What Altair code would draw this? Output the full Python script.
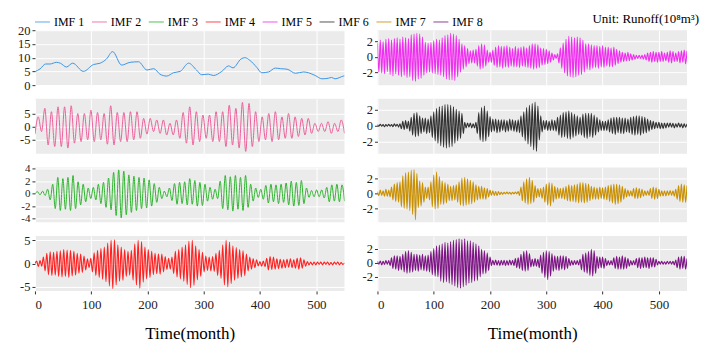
import altair as alt
import numpy as np
import pandas as pd

names = ["IMF 1", "IMF 2", "IMF 3", "IMF 4", "IMF 5", "IMF 6", "IMF 7", "IMF 8"]
colors = ["#3C96E6", "#EC5F9C", "#2DB52D", "#FF2222", "#F030F0", "#333333", "#C99004", "#7D1585"]
unit_text = ["Unit: Runoff(10⁸m³)"]

x_ticks = [0, 100, 200, 300, 400, 500]

imf1_month = [0, 9, 19, 27, 38, 45, 56, 67, 86, 104, 116, 127, 138, 154, 169, 184, 199, 211,
              222, 234, 246, 258, 273, 287, 296, 308, 317, 332, 344, 352, 366, 373, 382, 394,
              403, 415, 427, 436, 448, 463, 477, 486, 498, 510, 521, 527, 533, 548, 550]
imf1_value = [4.9, 5.9, 7.7, 7.7, 8.3, 8.0, 6.6, 8.0, 5.0, 7.5, 8.0, 9.5, 12.2, 7.3, 8.3, 8.5,
              5.5, 6.0, 4.0, 3.3, 4.5, 5.0, 8.0, 5.5, 3.8, 4.0, 3.5, 5.0, 7.0, 6.3, 9.5, 10.0,
              9.0, 6.5, 4.5, 4.8, 6.2, 6.0, 5.8, 4.3, 4.8, 4.5, 3.5, 2.3, 2.5, 2.8, 2.3, 3.3, 3.4]

imf2 = [-2.9, 3.8, -1.9, 7.1, -7.1, 5.8, -7.7, 7.7, -7.7, 7.7, -8.3, 8.1, -6.4, 5.1, -5.8, 5.1,
        -5.1, 6.4, -5.8, 5.5, -5.1, 5.1, -6.8, 8.1, -7.1, 5.5, -5.8, 5.5, -5.8, 5.8, -5.1, 5.8,
        -4.5, 3.2, -2.9, 3.2, -1.9, 2.6, -2.6, 2.6, -3.2, 1.3, -3.2, 2.6, -4.5, 5.5, -6.4, 7.7,
        -7.1, 5.8, -5.8, 4.5, -4.5, 4.5, -5.8, 5.8, -5.8, 5.8, -7.7, 8.3, -7.1, 7.1, -8.3, 9.4,
        -9.6, 9.0, -7.7, 5.8, -5.8, 3.8, -5.1, 5.1, -5.8, 5.8, -5.1, 3.8, -4.5, 5.1, -4.5, 3.8,
        -3.8, 3.2, -3.2, 3.2, -2.6, 1.3, -1.9, 1.3, -1.9, 1.9, -2.6, 1.3, -1.9, 2.6, -2.6]

imf3 = [0.0, 0.3, -0.2, 0.4, -0.3, 0.7, -1.0, 1.5, -2.4, 2.6, -2.7, 2.4, -2.5, 2.6, -2.7, 2.9,
        -2.4, 1.9, -1.8, 1.5, -1.3, 0.9, -0.8, 1.0, -1.0, 1.5, -1.6, 1.8, -2.2, 2.5, -2.6, 3.4,
        -3.5, 3.8, -3.9, 3.6, -3.4, 3.0, -3.0, 2.8, -2.7, 2.6, -2.4, 2.5, -2.3, 2.2, -2.0, 1.6,
        -1.4, 1.0, -0.8, 0.4, -0.5, 0.9, -1.1, 1.6, -1.7, 1.8, -1.6, 1.9, -1.8, 2.4, -1.7, 2.1,
        -2.0, 1.8, -1.9, 1.5, -1.2, 1.0, -0.9, 0.7, -0.8, 2.0, -2.4, 2.9, -2.6, 2.7, -2.8, 2.9,
        -2.5, 2.6, -2.7, 2.9, -2.2, 1.5, -1.2, 0.9, -0.6, 0.7, -0.9, 1.3, -1.5, 1.5, -1.3, 1.4,
        -1.6, 1.5, -1.4, 1.7, -1.8, 2.0, -2.0, 1.8, -1.9, 2.1, -1.6, 0.9, -0.6, 0.5, -0.5, 0.6,
        -0.5, 0.6, -0.7, 1.0, -1.3, 1.4, -1.2, 1.5, -1.3, 1.4, -1.2]

imf4 = [0.0, 0.5, -0.7, 0.6, -0.6, 1.4, -1.6, 2.2, -2.4, 2.5, -2.6, 2.4, -2.5, 2.6, -2.8, 2.7,
        -2.9, 3.0, -2.8, 2.9, -3.0, 2.8, -2.7, 2.6, -2.5, 2.2, -2.1, 2.0, -1.9, 1.6, -1.4, 1.0,
        -0.9, 1.1, -1.8, 2.3, -2.6, 2.8, -3.0, 3.2, -3.4, 3.5, -3.9, 4.4, -4.8, 5.0, -5.4, 5.1,
        -4.6, 4.0, -3.8, 3.5, -3.6, 3.0, -2.8, 2.6, -2.5, 2.8, -3.6, 4.2, -4.6, 5.0, -5.3, 4.7,
        -4.0, 3.5, -3.3, 3.0, -3.0, 2.6, -2.4, 2.2, -2.2, 2.1, -2.3, 2.0, -1.8, 1.5, -1.3, 1.1,
        -1.2, 1.4, -2.2, 2.6, -2.9, 3.0, -3.3, 3.5, -3.8, 4.0, -4.5, 4.8, -5.2, 5.0, -4.7, 3.8,
        -3.5, 3.0, -2.8, 2.4, -1.8, 1.6, -1.5, 1.4, -1.6, 1.5, -1.7, 2.2, -2.6, 2.8, -3.2, 4.0,
        -4.6, 5.0, -5.0, 4.6, -4.3, 3.8, -3.6, 3.4, -3.2, 3.0, -2.9, 2.7, -2.6, 2.0, -1.6, 1.4,
        -1.2, 1.0, -0.9, 0.8, -0.5, 0.4, -0.6, 0.5, -0.7, 1.1, -1.4, 1.5, -1.3, 1.4, -1.2, 1.0,
        -1.1, 0.9, -1.0, 0.8, -0.9, 0.9, -0.8, 1.0, -0.9, 0.8, -1.0, 1.1, -1.2, 1.2, -1.0, 0.8,
        -0.6, 0.4, -0.3, 0.3, -0.3, 0.3, -0.3, 0.3, -0.2, 0.3, -0.3, 0.3, -0.2, 0.3, -0.3, 0.2,
        -0.3, 0.3, -0.2, 0.3, -0.3, 0.2, -0.2, 0.1]

imf5 = [1.8, -2.0, 2.2, -2.1, 2.0, -2.2, 2.3, -1.9, 2.4, -2.3, 2.2, -2.5, 2.4, -2.2, 2.5, -2.4,
        2.3, -2.6, 2.6, -2.4, 2.5, -2.7, 2.4, -2.6, 2.9, -3.1, 3.0, -3.2, 3.1, -2.9, 3.0, -2.8,
        2.6, -2.4, 1.9, -2.1, 1.8, -2.0, 1.9, -2.1, 2.1, -2.2, 2.3, -2.3, 2.2, -2.4, 2.5, -2.6,
        2.8, -2.9, 2.9, -3.0, 3.1, -3.0, 3.0, -3.1, 2.8, -2.6, 2.3, -2.0, 1.7, -1.6, 1.5, -1.3,
        1.1, -0.9, 0.8, -0.8, 0.9, -0.8, 1.0, -1.2, 1.5, -1.6, 1.7, -1.5, 1.6, -1.2, 0.9, -0.7,
        0.6, -0.7, 0.9, -1.1, 1.3, -1.4, 1.5, -1.3, 1.4, -1.5, 1.4, -1.3, 1.5, -1.4, 1.3, -1.2,
        1.1, -1.3, 1.4, -1.3, 1.2, -1.4, 1.3, -1.2, 1.4, -1.3, 1.2, -1.4, 1.5, -1.5, 1.7, -1.6,
        1.7, -1.5, 1.6, -1.4, 1.2, -1.1, 1.1, -1.0, 1.0, -0.9, 0.8, -0.7, 0.5, -0.4, 0.3, -0.2,
        0.4, -0.8, 1.2, -1.5, 1.8, -2.1, 2.3, -2.5, 2.7, -2.6, 2.6, -2.7, 2.5, -2.6, 2.6, -2.4,
        2.5, -2.3, 2.2, -2.0, 1.7, -1.6, 1.7, -1.7, 1.6, -1.5, 1.5, -1.4, 1.5, -1.5, 1.4, -1.3,
        1.5, -1.4, 1.3, -1.2, 1.3, -1.3, 1.2, -1.3, 1.3, -1.1, 1.0, -0.9, 0.8, -0.7, 0.6, -0.6,
        0.5, -0.5, 0.6, -0.5, 0.4, -0.4, 0.3, -0.3, 0.2, -0.2, 0.2, -0.2, 0.2, -0.3, 0.3, -0.4,
        0.5, -0.6, 0.6, -0.7, 0.7, -0.6, 0.6, -0.7, 0.6, -0.6, 0.7, -0.6, 0.5, -0.5, 0.6, -0.7,
        0.8, -0.8, 0.7, -0.6, 0.5, -0.6, 0.7, -0.8, 0.8, -0.7, 0.9, -0.9, 0.8]

imf6 = [0.1, -0.1, 0.15, -0.1, 0.1, -0.15, 0.1, -0.1, 0.15, -0.1,
        0.1, -0.15, 0.2, -0.1, 0.15, -0.2, 0.2,
        -0.4, 0.5, -0.5, 0.6, -0.4, 0.5, -0.7,
        1.0, -1.2, 1.5, -1.4, 1.6, -1.3, 1.2,
        -1.0, 0.9, -0.8, 0.9, -1.0, 0.8, -0.9,
        1.2, -1.5, 1.7, -1.9, 2.1, -2.2, 2.3,
        -2.5, 2.4, -2.7, 2.6, -2.8, 2.6, -2.7, 2.5, -2.6, 2.3,
        -2.2, 2.0, -1.9, 1.8, -1.6, 1.5, -1.0,
        0.4, -0.3, 0.3, -0.2, 0.3, -0.3, 0.2, -0.3, 0.4,
        -1.0, 1.6, -1.8, 2.2, -2.0, 2.4, -1.9, 1.8, -1.4, 1.1,
        -0.8, 0.8, -0.7, 0.8, -0.9, 0.7, -0.8,
        0.7, -0.6, 0.7, -0.8, 0.6, -0.7, 0.8, -0.6, 0.7, -0.7, 0.6, -0.8, 0.7, -0.9,
        1.2, -1.4, 1.7, -1.9, 2.2, -2.3, 2.5,
        -2.6, 2.7, -3.0, 2.9, -3.2, 2.4, -1.8,
        1.2, -0.8, 0.6, -0.5, 0.6, -0.6, 0.5, -0.6, 0.7, -0.6, 0.6, -0.7,
        1.0, -1.2, 1.3, -1.5, 1.6, -1.4, 1.7, -1.6, 1.8, -1.7, 1.6, -1.5, 1.4, -1.3, 1.2, -1.1, 1.0,
        -1.2, 1.4, -1.5, 1.5, -1.6, 1.5, -1.4, 1.5, -1.5, 1.3, -1.2, 1.0, -0.8, 0.7,
        -0.6, 0.5, -0.6, 0.5, -0.6, 0.7, -0.8,
        0.9, -1.0, 1.0, -1.1, 1.0, -0.9, 1.0, -1.0, 0.9, -1.0, 0.9, -0.8, 0.8, -0.9,
        1.0, -1.1, 1.1, -1.2, 1.2, -1.1, 1.2, -1.2, 1.1, -1.0, 1.0, -0.9, 0.8, -0.7, 0.6, -0.5, 0.5,
        -0.4, 0.4, -0.3, 0.4, -0.4, 0.3, -0.4, 0.3, -0.3, 0.3,
        -0.2, 0.3, -0.2, 0.25, -0.3, 0.2, -0.2, 0.3, -0.2, 0.2, -0.3, 0.2, -0.2, 0.2]

imf7 = [0.2, -0.3, 0.4, -0.3, 0.3, -0.4, 0.5, -0.4, 0.4, -0.5,
        0.8, -0.9, 1.2, -1.1, 1.4, -1.2, 1.5,
        -1.8, 2.3, -2.0, 2.7, -2.1,
        2.8, -2.3, 3.0, -2.8,
        3.1, -3.5, 2.6,
        -1.9, 1.6, -1.7, 1.4, -1.2,
        0.8, -0.7, 0.8, -0.9,
        1.5, -1.8, 2.4, -2.1, 2.8, -2.0, 2.2,
        -1.5, 1.6, -1.5, 1.4, -1.3, 1.2, -1.0,
        0.9, -1.0, 1.0, -0.9, 1.1, -1.2, 1.5,
        -1.6, 2.0, -1.7, 2.1, -1.6, 1.9, -1.5, 1.7, -1.4, 1.5, -1.2, 1.1,
        -0.9, 0.9, -0.8, 0.9, -0.8, 0.7, -0.8, 0.6, -0.5, 0.4,
        -0.3, 0.3, -0.3, 0.2, -0.3, 0.2, -0.2,
        0.1, -0.15, 0.1, -0.1, 0.15, -0.1, 0.1, -0.15, 0.1, -0.1, 0.15, -0.1, 0.2, -0.3,
        0.8, -1.0, 1.5, -1.3, 1.9, -1.5, 2.1, -1.4, 1.7, -1.2, 1.0,
        -0.6, 0.6, -0.5, 0.6, -0.7, 0.8,
        -1.2, 1.2, -1.6, 1.4, -1.7, 1.3, -1.2, 0.9, -0.8,
        0.7, -0.7, 0.6, -0.7, 0.7, -0.8, 0.9,
        -1.0, 1.1, -1.1, 1.0, -1.1, 1.1, -1.2,
        1.2, -1.3, 1.4, -1.2, 1.4, -1.3, 1.3, -1.2, 1.2, -1.0, 0.9, -0.8,
        0.8, -0.8, 0.7, -0.8, 0.8, -0.7, 0.7, -0.8, 0.8, -0.9,
        1.0, -1.1, 1.1, -1.3, 1.2, -1.5, 1.2, -1.4, 1.1, -1.2, 0.9, -0.8, 0.6, -0.5,
        0.4, -0.4, 0.3, -0.4,
        0.6, -0.7, 0.7, -0.7, 0.6, -0.6, 0.5, -0.4,
        0.3, -0.3, 0.3, -0.3,
        0.6, -0.7, 0.8, -0.8, 0.7, -0.7, 0.5, -0.4,
        0.3, -0.35, 0.3, -0.35, 0.3, -0.3, 0.35, -0.3, 0.3, -0.4, 0.5,
        -0.8, 1.0, -1.1, 1.2, -1.2, 1.1, -1.2, 1.0]

imf8 = [0.2, -0.2, 0.25, -0.3, 0.2, -0.25, 0.3, -0.2, 0.3, -0.4,
        0.7, -0.8, 1.0, -0.9, 1.0, -1.1, 0.9, -1.0, 1.2,
        -1.3, 1.6, -1.5, 1.7, -1.4, 1.5, -1.3,
        1.2, -1.1, 1.2, -1.2, 1.1, -1.0, 1.2, -1.1, 1.0, -1.2, 1.1, -1.3,
        1.6, -1.7, 2.0, -1.9, 2.4, -2.0, 2.5,
        -2.6, 2.7, -2.8, 2.9, -2.7, 2.8, -2.9, 3.0, -3.1, 3.2,
        -3.3, 3.3, -3.5, 3.4, -3.6, 3.3, -3.4, 3.4, -3.2, 3.1,
        -2.9, 3.1, -2.8, 2.9, -2.6, 2.7, -2.5, 2.4, -2.0,
        1.9, -1.6, 1.7, -1.5, 1.4, -1.1, 0.8,
        -0.4, 0.35, -0.3, 0.4, -0.35, 0.3, -0.4, 0.35, -0.3, 0.35, -0.4, 0.3, -0.35, 0.4, -0.3, 0.35, -0.4,
        0.6, -0.7, 0.7, -0.8,
        1.2, -1.1, 1.6, -1.2, 1.7, -1.1, 1.3,
        -0.6, 0.5, -0.5, 0.6, -0.5, 0.5, -0.7,
        1.1, -1.5, 1.5, -2.1, 1.7, -2.4, 1.6, -1.9, 1.3, -1.2,
        1.0, -1.0, 0.9, -1.1, 1.0, -0.9, 1.0, -1.0, 0.9, -0.8, 0.6, -0.4,
        0.3, -0.3, 0.3, -0.25, 0.3, -0.3, 0.5,
        -1.0, 1.2, -1.3, 1.4, -1.5, 1.6, -1.8,
        1.9, -1.9, 1.7, -1.5,
        0.9, -0.8, 0.8, -0.7, 0.8, -0.8, 0.6, -0.4,
        0.3, -0.3, 0.3, -0.3,
        0.7, -0.8, 0.9, -0.9, 0.8, -0.9, 1.0, -0.9, 0.8, -0.8, 0.6, -0.5,
        0.3, -0.3, 0.3, -0.3,
        0.6, -0.7, 0.7, -0.8, 0.7, -0.7, 0.8, -0.7, 0.7, -0.8, 0.7, -0.6, 0.7, -0.6, 0.5,
        -0.3, 0.2, -0.2, 0.2, -0.2, 0.15, -0.2, 0.2, -0.15, 0.2, -0.2, 0.2, -0.3, 0.4,
        -0.7, 0.8, -0.9, 0.9, -0.8, 0.9, -0.9, 0.6]

series = {
    "IMF 1": (imf1_month, imf1_value),
    "IMF 2": (np.linspace(0, 550, len(imf2)), imf2),
    "IMF 3": (np.linspace(0, 550, len(imf3)), imf3),
    "IMF 4": (np.linspace(0, 550, len(imf4)), imf4),
    "IMF 5": (np.linspace(0, 550, len(imf5)), imf5),
    "IMF 6": (np.linspace(0, 550, len(imf6)), imf6),
    "IMF 7": (np.linspace(0, 550, len(imf7)), imf7),
    "IMF 8": (np.linspace(0, 550, len(imf8)), imf8),
}

y_setup = {
    "IMF 1": ([0, 20], [0, 5, 10, 15, 20]),
    "IMF 2": ([-10.5, 10.8], [-5, 0, 5]),
    "IMF 3": ([-4.6, 4.2], [-4, -2, 0, 2, 4]),
    "IMF 4": ([-5.9, 5.9], [-5, 0, 5]),
    "IMF 5": ([-3.7, 3.5], [-2, 0, 2]),
    "IMF 6": ([-3.5, 3.3], [-2, 0, 2]),
    "IMF 7": ([-3.85, 3.4], [-2, 0, 2]),
    "IMF 8": ([-4.0, 3.8], [-2, 0, 2]),
}

FONT = "Liberation Serif"


def panel(name, bottom):
    months, values = series[name]
    df = pd.DataFrame({"month": list(months), "value": list(values), "series": name})
    ydom, yticks = y_setup[name]
    sw = 1.0 if name in ("IMF 1", "IMF 2", "IMF 3") else 1.15
    ylab = 11 if name == "IMF 3" else 12.5
    xaxis = alt.Axis(values=x_ticks, title="Time(month)" if bottom else None,
                     labels=bottom, ticks=bottom, grid=True, domain=False,
                     labelFont=FONT, titleFont=FONT, titlePadding=14, labelPadding=5)
    line = alt.Chart(df).mark_line(strokeWidth=sw, interpolate="monotone", clip=True).encode(
        x=alt.X("month:Q", scale=alt.Scale(domain=[0, 550], nice=False, zero=False), axis=xaxis),
        y=alt.Y("value:Q", scale=alt.Scale(domain=ydom, nice=False, zero=False),
                axis=alt.Axis(values=yticks, title=None, grid=True, domain=False,
                              labelFont=FONT, labelFontSize=ylab, labelOverlap=False,
                              labelExpr="'' + datum.value")),
        color=alt.Color("series:N", scale=alt.Scale(domain=names, range=colors),
                        legend=alt.Legend(orient="none", legendX=-1, legendY=-17,
                                          direction="horizontal", columns=8, title=None,
                                          symbolType="stroke", symbolStrokeWidth=1.5,
                                          symbolSize=225, symbolOpacity=0.55,
                                          labelFont=FONT, labelFontSize=12, labelColor="black",
                                          labelOffset=3, columnPadding=4)),
    ).properties(width=310, height=55)
    if name == "IMF 5":
        unit = alt.Chart(pd.DataFrame({"t": unit_text})).mark_text(
            align="right", baseline="middle", font=FONT, fontSize=13, color="black"
        ).encode(x=alt.value(322), y=alt.value(-11), text="t:N")
        return alt.layer(line, unit)
    return line


order = ["IMF 1", "IMF 5", "IMF 2", "IMF 6", "IMF 3", "IMF 7", "IMF 4", "IMF 8"]
panels = [panel(n, n in ("IMF 4", "IMF 8")) for n in order]

chart = alt.concat(*panels, columns=2, spacing={"row": 13.7, "column": 33},
                   bounds="flush").resolve_scale(
    x="independent", y="independent", color="shared"
).properties(
    padding={"left": 9, "top": 5, "right": 2, "bottom": 2}
).configure(
    font=FONT
).configure_view(
    fill="#EBEBEB", stroke=None
).configure_axis(
    gridColor="white", gridWidth=1, domain=False, tickColor="#333333", tickSize=3,
    labelFont=FONT, labelFontSize=13, labelColor="#222222", labelPadding=2,
    titleFont=FONT, titleFontSize=17, titleFontWeight="normal", titleColor="black"
).configure_legend(
    labelFont=FONT, titleFont=FONT
)

chart.save("out.html", embed_options={"renderer": "svg", "actions": False})
